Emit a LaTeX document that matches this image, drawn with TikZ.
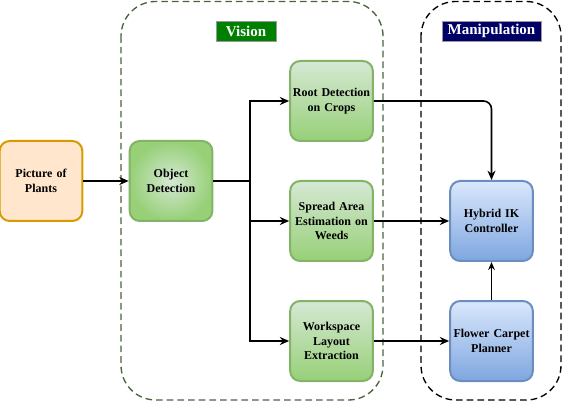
\documentclass[tikz,border=0pt]{standalone}
\usepackage{fontspec}
\setmainfont{Liberation Serif}
\usetikzlibrary{arrows.meta,shadings}
\definecolor{gfill1}{HTML}{D5E8D4}
\definecolor{gfill2}{HTML}{97D077}
\definecolor{gdraw}{HTML}{82B366}
\definecolor{bfill1}{HTML}{DAE8FC}
\definecolor{bfill2}{HTML}{7EA6E0}
\definecolor{bdraw}{HTML}{6C8EBF}
\definecolor{ofill}{HTML}{FFE6CC}
\definecolor{odraw}{HTML}{D79B00}
\definecolor{vdraw}{HTML}{4A6340}
\definecolor{vlab}{HTML}{008000}
\definecolor{mlab}{HTML}{000066}
\tikzset{
  box/.style={rounded corners=7.5pt, minimum width=60.75pt, minimum height=60pt, align=center, line width=1.5pt, font=\bfseries\fontsize{9pt}{10.8pt}\selectfont, inner sep=1pt, text width=60pt},
  greenbox/.style={box, draw=gdraw, top color=gfill1, bottom color=gfill2},
  radgreen/.style={box, draw=gdraw, inner color=gfill1, outer color=gfill2},
  bluebox/.style={box, draw=bdraw, top color=bfill1, bottom color=bfill2},
  orangebox/.style={box, draw=odraw, fill=ofill},
  contain/.style={rounded corners=26pt, dashed, dash pattern=on 5pt off 3pt, line width=1pt},
  lab/.style={font=\bfseries\fontsize{11.25pt}{13pt}\selectfont, text=white, minimum height=15pt, inner sep=0pt, draw=black!40, line width=0.5pt},
  arr/.style={-{Stealth[length=7pt,width=6pt]}, line width=1.2pt},
  arrthin/.style={-{Stealth[length=6pt,width=5pt]}, line width=0.9pt}
}
\begin{document}
\begin{tikzpicture}[x=0.75pt,y=-0.75pt]
\useasboundingbox (0,0) rectangle (563,402);
% containers
\draw[contain, draw=vdraw] (121,1.5) rectangle (383,400);
\draw[contain, draw=black] (421,1.5) rectangle (561,400);
\node[lab, fill=vlab, minimum width=45pt] (vlabel) at (246,31) {Vision};
\node[lab, fill=mlab, minimum width=74.25pt] (mlabel) at (491.5,31) {Manipulation};
% nodes
\node[orangebox] (pic) at (41,181) {Picture of\\Plants};
\node[radgreen] (obj) at (171,181) {Object\\Detection};
\node[greenbox] (root) at (331.5,101) {Root Detection\\on Crops};
\node[greenbox] (spread) at (331.5,221) {Spread Area\\Estimation on\\Weeds};
\node[greenbox] (work) at (331.5,341) {Workspace\\Layout\\Extraction};
\node[bluebox] (hyb) at (491.5,221) {Hybrid IK\\Controller};
\node[bluebox] (flow) at (491.5,341) {Flower Carpet\\Planner};
\coordinate (split) at (250,181);
% connectors
\draw[arr] (pic.east) -- (obj.west);
\draw[line width=2pt] (obj.east) -- (split);
\draw[arr] (split) |- (root.west);
\draw[arr] (split) |- (spread.west);
\draw[arr] (split) |- (work.west);
\draw[arr, rounded corners=6pt] (root.east) -| (hyb.north);
\draw[arr] (spread.east) -- (hyb.west);
\draw[arr] (work.east) -- (flow.west);
\draw[arrthin] (flow.north) -- (hyb.south);
\end{tikzpicture}
\end{document}
